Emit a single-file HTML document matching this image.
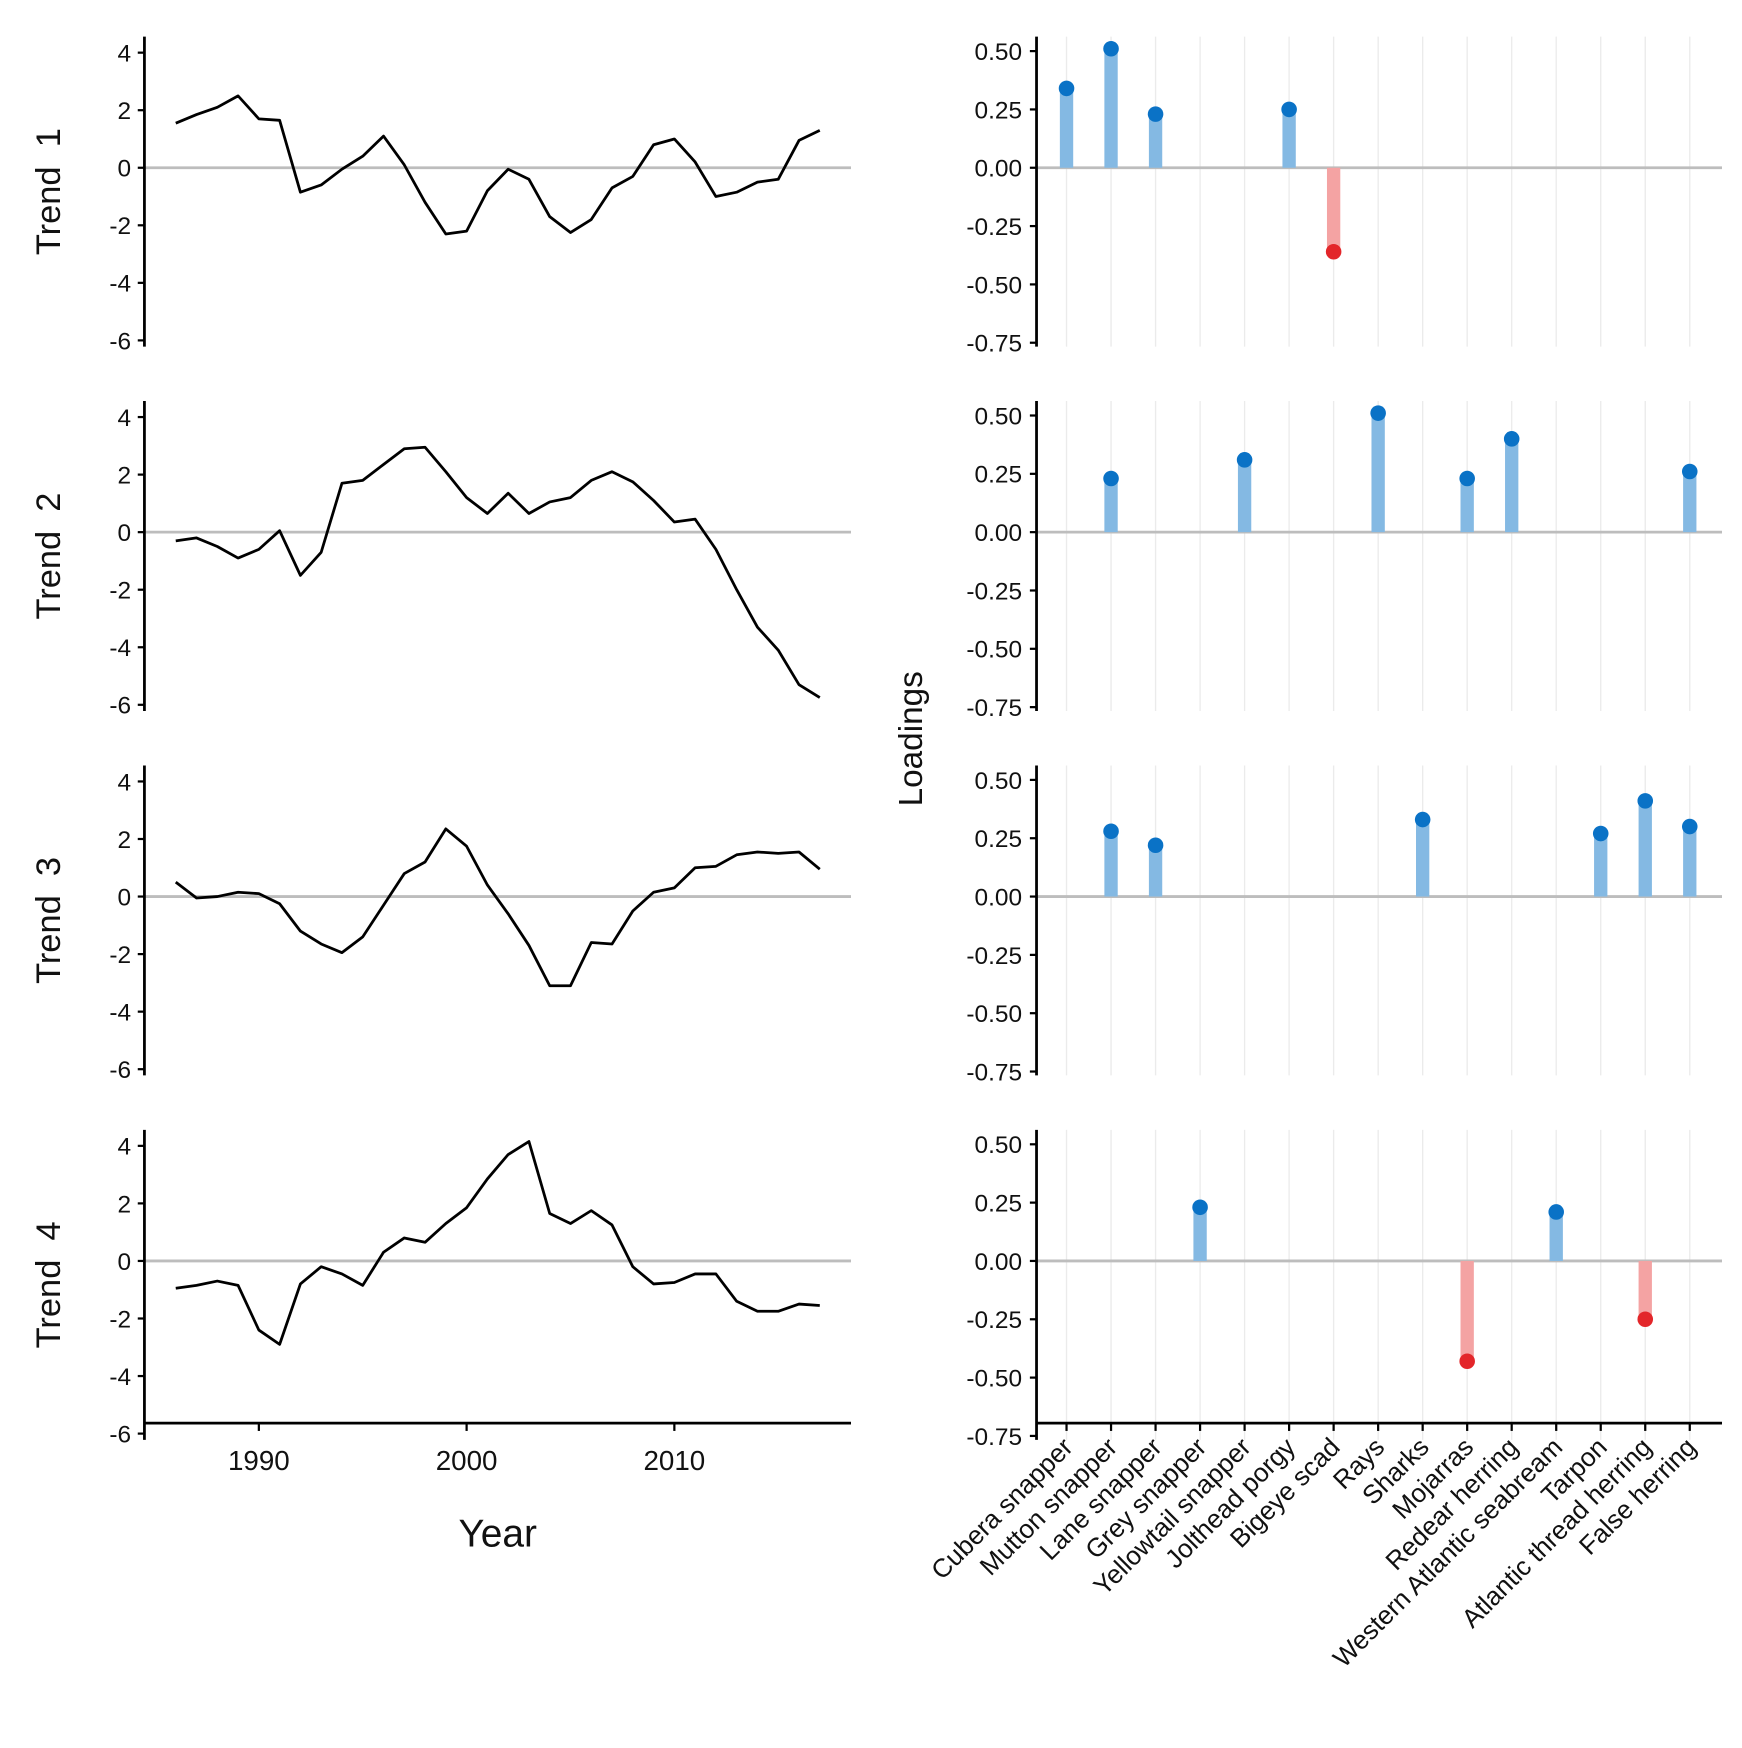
<!DOCTYPE html>
<html><head><meta charset="utf-8">
<style>
html,body{margin:0;padding:0;background:#fff;}
svg{display:block;font-family:"Liberation Sans",Arial,sans-serif;}
</style></head>
<body>
<svg id="chart" width="1742" height="1748" viewBox="0 0 1568 1573.4" xmlns="http://www.w3.org/2000/svg"></svg>
<script>
const years = [1986,1987,1988,1989,1990,1991,1992,1993,1994,1995,1996,1997,1998,1999,2000,2001,2002,2003,2004,2005,2006,2007,2008,2009,2010,2011,2012,2013,2014,2015,2016,2017];
const trend1 = [1.55,1.85,2.1,2.5,1.7,1.65,-0.85,-0.6,-0.05,0.4,1.1,0.1,-1.2,-2.3,-2.2,-0.8,-0.05,-0.4,-1.7,-2.25,-1.8,-0.7,-0.3,0.8,1.0,0.2,-1.0,-0.85,-0.5,-0.4,0.95,1.3];
const trend2 = [-0.3,-0.2,-0.5,-0.9,-0.6,0.05,-1.5,-0.7,1.7,1.8,2.35,2.9,2.95,2.1,1.2,0.65,1.35,0.65,1.05,1.2,1.8,2.1,1.75,1.1,0.35,0.45,-0.6,-2.0,-3.3,-4.1,-5.3,-5.75];
const trend3 = [0.5,-0.05,0,0.15,0.1,-0.25,-1.2,-1.65,-1.95,-1.4,-0.3,0.8,1.2,2.35,1.75,0.4,-0.6,-1.7,-3.1,-3.1,-1.6,-1.65,-0.5,0.15,0.3,1.0,1.05,1.45,1.55,1.5,1.55,0.95];
const trend4 = [-0.95,-0.85,-0.7,-0.85,-2.4,-2.9,-0.8,-0.2,-0.45,-0.85,0.3,0.8,0.65,1.3,1.85,2.85,3.7,4.15,1.65,1.3,1.75,1.25,-0.2,-0.8,-0.75,-0.45,-0.45,-1.4,-1.75,-1.75,-1.5,-1.55];
const species = ["Cubera snapper","Mutton snapper","Lane snapper","Grey snapper","Yellowtail snapper","Jolthead porgy","Bigeye scad","Rays","Sharks","Mojarras","Redear herring","Western Atlantic seabream","Tarpon","Atlantic thread herring","False herring"];
const load1 = [0.34,0.51,0.23,null,null,0.25,-0.36,null,null,null,null,null,null,null,null];
const load2 = [null,0.23,null,null,0.31,null,null,0.51,null,0.23,0.40,null,null,null,0.26];
const load3 = [null,0.28,0.22,null,null,null,null,null,0.33,null,null,null,0.27,0.41,0.30];
const load4 = [null,null,null,0.23,null,null,null,null,null,-0.43,null,0.21,null,-0.25,null];
const trendTicks = [4,2,0,-2,-4,-6];
const yearTicks = [1990,2000,2010];
const loadTicks = [0.50,0.25,0.00,-0.25,-0.50,-0.75];
const loadTickLabels = ["0.50","0.25","0.00","-0.25","-0.50","-0.75"];

const NS="http://www.w3.org/2000/svg";
const svg=document.getElementById('chart');
function mk(tag,attrs,parent){const e=document.createElementNS(NS,tag);for(const k in attrs)e.setAttribute(k,attrs[k]);(parent||svg).appendChild(e);return e;}

const trends=[trend1,trend2,trend3,trend4];
const loads=[load1,load2,load3,load4];
const panelStep=328;
const xYear=y=>233+(y-1990)*18.7;
const yTrend=(v,p)=>151+p*panelStep-v*25.9;
const xCat=i=>960+i*40.07;
const yLoad=(v,p)=>151+p*panelStep-v*210;

for(let p=0;p<4;p++){
  const gL=mk('g',{});
  
  
  const top=33+p*panelStep, bot=312+p*panelStep;
  const zl=mk('line',{x1:130,x2:766,y1:yTrend(0,p),y2:yTrend(0,p),stroke:'#bdbdbd','stroke-width':2.5},gL);
  
  
  const ax=mk('line',{x1:130,x2:130,y1:top,y2:bot,stroke:'#000','stroke-width':2.5},gL);
  
  
  trendTicks.forEach(t=>{
    const y=yTrend(t,p);
    mk('line',{x1:124,x2:130,y1:y,y2:y,stroke:'#000','stroke-width':2},gL);
    const tx=mk('text',{x:118,y:y+8,'text-anchor':'end','font-size':22,fill:'#111'},gL);
    tx.textContent=t;
    
    
  });
  const lab=mk('text',{transform:`translate(54,${(top+bot)/2}) rotate(-90)`,'text-anchor':'middle','font-size':31,fill:'#111','xml:space':'preserve'},gL);
  lab.textContent='Trend\u00a0\u00a0'+(p+1);
  
  
  const pts=years.map((yr,i)=>xYear(yr).toFixed(1)+','+yTrend(trends[p][i],p).toFixed(1)).join(' ');
  const line=mk('polyline',{points:pts,fill:'none',stroke:'#000','stroke-width':2.5,'stroke-linejoin':'round'},gL);
  
  

  const gR=mk('g',{});
  
  
  species.forEach((s,i)=>{
    const gl=mk('line',{x1:xCat(i),x2:xCat(i),y1:top,y2:bot,stroke:'#ebebeb','stroke-width':1.2},gR);
    
    
  });
  const zr=mk('line',{x1:933,x2:1550,y1:yLoad(0,p),y2:yLoad(0,p),stroke:'#bdbdbd','stroke-width':2.5},gR);
  
  
  const ax2=mk('line',{x1:933,x2:933,y1:top,y2:bot,stroke:'#000','stroke-width':2.5},gR);
  
  
  loadTicks.forEach((t,k)=>{
    const y=yLoad(t,p);
    mk('line',{x1:927,x2:933,y1:y,y2:y,stroke:'#000','stroke-width':2},gR);
    const tx=mk('text',{x:920,y:y+8,'text-anchor':'end','font-size':22,fill:'#111'},gR);
    tx.textContent=loadTickLabels[k];
    
    
  });
  loads[p].forEach((v,i)=>{
    if(v===null)return;
    const pos=v>0;
    const y0=yLoad(0,p), y1=yLoad(v,p);
    const bar=mk('rect',{x:xCat(i)-6,y:Math.min(y0,y1),width:12,height:Math.abs(y1-y0),fill:pos?'#84b9e3':'#f4a3a3'},gR);
    
    
    const dot=mk('circle',{cx:xCat(i),cy:y1,r:7,fill:pos?'#0a72c6':'#e3262a'},gR);
    
    
  });

  if(p===3){
    const xa=mk('line',{x1:130,x2:766,y1:bot-15,y2:bot-15,stroke:'#000','stroke-width':2.5},gL);
    
    
    yearTicks.forEach(t=>{
      const x=xYear(t);
      mk('line',{x1:x,x2:x,y1:bot-15,y2:bot-8,stroke:'#000','stroke-width':2},gL);
      const tx=mk('text',{x:x,y:bot+27,'text-anchor':'middle','font-size':25,fill:'#111'},gL);
      tx.textContent=t;
      
      
    });
    const xr=mk('line',{x1:933,x2:1550,y1:bot-15,y2:bot-15,stroke:'#000','stroke-width':2.5},gR);
    
    
    species.forEach((s,i)=>{
      const x=xCat(i);
      mk('line',{x1:x,x2:x,y1:bot-15,y2:bot-8,stroke:'#000','stroke-width':2},gR);
      const tx=mk('text',{transform:`translate(${x+7},${bot+8}) rotate(-45)`,'text-anchor':'end','font-size':23.5,fill:'#111'},gR);
      tx.textContent=s;
      
      
    });
  }
}
const yt=mk('text',{x:448,y:1392,'text-anchor':'middle','font-size':35,fill:'#111'});
yt.textContent='Year';


const lt=mk('text',{transform:'translate(830,665) rotate(-90)','text-anchor':'middle','font-size':30,fill:'#111'});
lt.textContent='Loadings';


</script>
</body></html>
